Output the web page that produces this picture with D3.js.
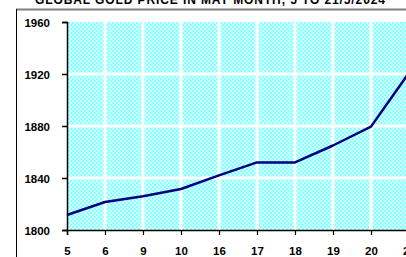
<!DOCTYPE html>
<html><head><meta charset="utf-8">
<script src="https://cdn.jsdelivr.net/npm/d3@7"></script>
<style>body{margin:0;background:#fff;overflow:hidden}svg{display:block}</style>
</head><body>
<script>
const categories = ["5","6","9","10","16","17","18","19","20","21"];
const prices = [1811.5, 1821.5, 1826, 1831.5, 1842, 1852, 1852, 1865, 1879.5, 1921];
const yTicks = [1800, 1840, 1880, 1920, 1960];
const title = "GLOBAL GOLD PRICE IN MAY MONTH, 5 TO 21/5/2024";

const W = 406, H = 257;
const svg = d3.select("body").append("svg").attr("width", W).attr("height", H);

const defs = svg.append("defs");
const pat = defs.append("pattern").attr("id","chk").attr("patternUnits","userSpaceOnUse")
  .attr("width",4).attr("height",4);
pat.append("rect").attr("width",4).attr("height",4).attr("fill","#8cffff");
pat.append("rect").attr("x",0).attr("y",0).attr("width",2).attr("height",2).attr("fill","#d0ffff");
pat.append("rect").attr("x",2).attr("y",2).attr("width",2).attr("height",2).attr("fill","#d0ffff");

// frame
svg.append("line").attr("x1",16).attr("x2",W).attr("y1",9.5).attr("y2",9.5).attr("stroke","#808080").attr("stroke-width",2);
svg.append("line").attr("x1",16.5).attr("x2",16.5).attr("y1",9).attr("y2",H).attr("stroke","#000").attr("stroke-width",1);

svg.append("text").attr("x",210).attr("y",4).attr("text-anchor","middle")
  .attr("font-family","Liberation Sans, Arial, sans-serif").attr("font-weight","bold").attr("font-size",12)
  .attr("textLength",350).attr("lengthAdjust","spacing")
  .attr("fill","#000").text(title);

const x = d3.scalePoint().domain(categories).range([67, 409]);
const y = d3.scaleLinear().domain([1800, 1960]).range([230, 22]);

// plot background
svg.append("rect").attr("x",67).attr("y",22).attr("width",W-67).attr("height",208).attr("fill","url(#chk)");

// grid lines (white)
const g = svg.append("g");
g.selectAll("line.v").data(categories.slice(1)).join("line")
  .attr("x1",d=>x(d)).attr("x2",d=>x(d)).attr("y1",22).attr("y2",230)
  .attr("stroke","#fff").attr("stroke-width",3);
g.selectAll("line.h").data(yTicks.slice(1,4)).join("line")
  .attr("x1",67).attr("x2",W).attr("y1",d=>y(d)).attr("y2",d=>y(d))
  .attr("stroke","#fff").attr("stroke-width",3);

// axes
const yAxis = d3.axisLeft(y).tickValues(yTicks).tickSize(5).tickFormat(d3.format("d"));
const ya = svg.append("g").attr("transform","translate(67,0)").call(yAxis);
ya.select(".domain").attr("stroke","#000").attr("stroke-width",1.5);
ya.selectAll(".tick line").attr("stroke","#000").attr("stroke-width",1.5).attr("x1",0).attr("x2",-5);
ya.selectAll(".tick text").attr("x",-17).attr("dy","0.35em").attr("font-family","Liberation Sans, Arial, sans-serif")
  .attr("font-weight","bold").attr("font-size",11.5).attr("fill","#000");

const xAxis = d3.axisBottom(x).tickSize(5);
const xa = svg.append("g").attr("transform","translate(0,230)").call(xAxis);
xa.select(".domain").attr("stroke","#000").attr("stroke-width",1.5);
xa.selectAll(".tick line").attr("stroke","#000").attr("stroke-width",1.2);
xa.selectAll(".tick text").attr("y",17).attr("font-family","Liberation Sans, Arial, sans-serif")
  .attr("font-weight","bold").attr("font-size",11.5).attr("fill","#000");

// line
const line = d3.line().x((d,i)=>x(categories[i])).y(d=>y(d));
svg.append("path").datum(prices).attr("d",line).attr("fill","none")
  .attr("stroke","#000080").attr("stroke-width",2.5).attr("stroke-linejoin","round");
</script>
</body></html>
